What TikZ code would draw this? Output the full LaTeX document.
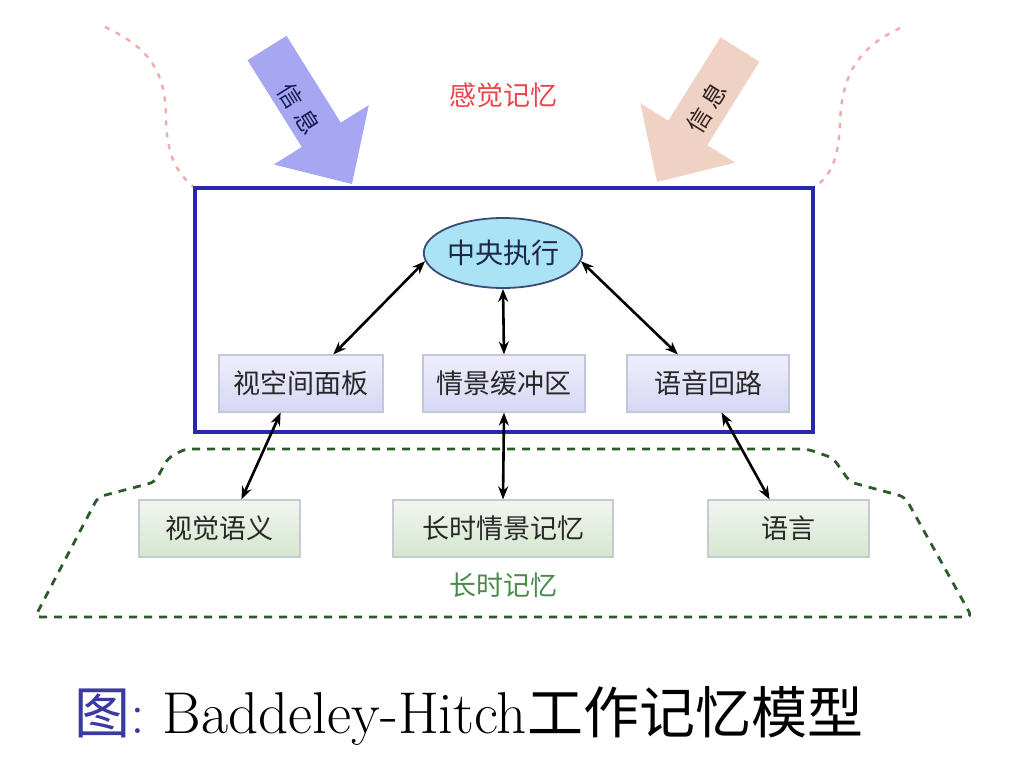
\documentclass[tikz,border=0pt]{standalone}
\usepackage{fontspec}
\newfontfamily\cjk{Noto Sans CJK SC}
\usetikzlibrary{arrows.meta,shapes.geometric}
\definecolor{rectblue}{RGB}{40,40,175}
\definecolor{arrblue}{RGB}{166,166,242}
\definecolor{arrpeach}{RGB}{240,210,196}
\definecolor{pinkdash}{RGB}{240,170,170}
\definecolor{greendash}{RGB}{45,90,45}
\definecolor{senred}{RGB}{232,70,74}
\definecolor{ltgreen}{RGB}{74,138,74}
\definecolor{celfill}{RGB}{170,228,244}
\definecolor{celdraw}{RGB}{58,74,122}
\definecolor{boxtext}{RGB}{40,40,40}
\definecolor{wmtop}{RGB}{238,238,252}
\definecolor{wmbot}{RGB}{214,216,244}
\definecolor{wmdraw}{RGB}{196,198,220}
\definecolor{lttop}{RGB}{242,246,240}
\definecolor{ltbot}{RGB}{212,230,206}
\definecolor{ltdraw}{RGB}{198,202,214}
\definecolor{capblue}{RGB}{58,58,160}
\definecolor{infoLc}{RGB}{26,26,80}
\definecolor{infoRc}{RGB}{48,32,32}
\begin{document}
\begin{tikzpicture}[x=0.5pt,y=-0.5pt,
  txt/.style={font=\cjk\fontsize{13.5pt}{16pt}\selectfont, text=boxtext},
  wmbox/.style={txt, rectangle, draw=wmdraw, line width=0.6pt, top color=wmtop, bottom color=wmbot, minimum height=28.5pt, inner sep=0pt},
  ltbox/.style={txt, rectangle, draw=ltdraw, line width=0.6pt, top color=lttop, bottom color=ltbot, minimum height=28.5pt, inner sep=0pt},
  biarrow/.style={line width=1.3pt, draw=black, {Stealth[length=6.5pt,width=5pt]}-{Stealth[length=6.5pt,width=5pt]}},
  infotxt/.style={font=\cjk\fontsize{12pt}{13pt}\selectfont, inner sep=0pt}
]
\useasboundingbox (0,0) rectangle (1024,781);
% sensory memory boundary
\draw[pinkdash, line width=1.2pt, dash pattern=on 2.5pt off 3.5pt]
  (105,27) .. controls (150,48) and (166,72) .. (166,120)
  .. controls (167,160) and (180,176) .. (195,188);
\draw[pinkdash, line width=1.2pt, dash pattern=on 2.5pt off 3.5pt]
  (900,28) .. controls (858,48) and (841,75) .. (840,125)
  .. controls (838,165) and (828,178) .. (813,188);
% block arrows
\fill[arrblue] (286.5,35.8) -- (340.8,122.6) -- (368.8,105.1) -- (352,184)
  -- (273.8,164.5) -- (301.8,147.0) -- (247.5,60.2) -- cycle;
\fill[arrpeach] (720.5,37.3) -- (668.3,120.7) -- (640.4,103.2) -- (657,182)
  -- (735.2,162.6) -- (707.3,145.1) -- (759.5,61.7) -- cycle;
\node[infotxt, text=infoLc, rotate=-58] (infoL1) at (291,96) {信};
\node[infotxt, text=infoLc, rotate=-58] (infoL2) at (308,122) {息};
\node[infotxt, text=infoRc, rotate=58] (infoR1) at (699,121) {信};
\node[infotxt, text=infoRc, rotate=58] (infoR2) at (714,95) {息};
\node[font=\cjk\fontsize{13.5pt}{16pt}\selectfont, text=senred, inner sep=0pt] (sen) at (503,95) {感觉记忆};
% working memory frame
\draw[rectblue, line width=1.6pt] (195,188) rectangle (813,432);
% long-term memory boundary
\draw[greendash, line width=1.4pt, dash pattern=on 4pt off 3.5pt, rounded corners=3pt]
  (35,617) -- (98,497) -- (155,482) -- (168,458) -- (185,449) -- (807,449)
  -- (833,458) -- (850,482) -- (905,497) -- (972,617) -- cycle;
\node[font=\cjk\fontsize{13.5pt}{16pt}\selectfont, text=ltgreen, inner sep=0pt] (ltm) at (503,585) {长时记忆};
% nodes
\node[ellipse, draw=celdraw, line width=0.9pt, fill=celfill, minimum width=71.5pt, minimum height=35pt, inner sep=0pt, font=\cjk\fontsize{14pt}{16pt}\selectfont, text={rgb,255:red,30;green,40;blue,70}] (ce) at (503,253) {中央执行};
\node[wmbox, minimum width=82pt] (vs) at (301,383.5) {视空间面板};
\node[wmbox, minimum width=81pt] (ep) at (504,383.5) {情景缓冲区};
\node[wmbox, minimum width=81pt] (pl) at (708,383.5) {语音回路};
\node[ltbox, minimum width=80.5pt] (vsem) at (219.5,528.5) {视觉语义};
\node[ltbox, minimum width=110pt] (lt) at (503,528.5) {长时情景记忆};
\node[ltbox, minimum width=80.5pt] (lang) at (788.5,528.5) {语言};
% connectors
\draw[biarrow] (ce.186) -- (vs.42);
\draw[biarrow] (ce.south) -- (ep.north);
\draw[biarrow] (ce.-6) -- (pl.136);
\draw[biarrow] (vs.235) -- (vsem.53);
\draw[biarrow] (ep.south) -- (lt.north);
\draw[biarrow] (pl.295) -- (lang.123);
% caption
\node[anchor=base west, inner sep=0pt, font=\fontsize{29.5pt}{32pt}\selectfont] (cap) at (74,733)
  {{\cjk\fontsize{28pt}{30pt}\selectfont\color{capblue}图}{\color{capblue}:}\ Baddeley-Hitch{\cjk\fontsize{28pt}{30pt}\selectfont 工作记忆模型}};
\end{tikzpicture}
\end{document}
